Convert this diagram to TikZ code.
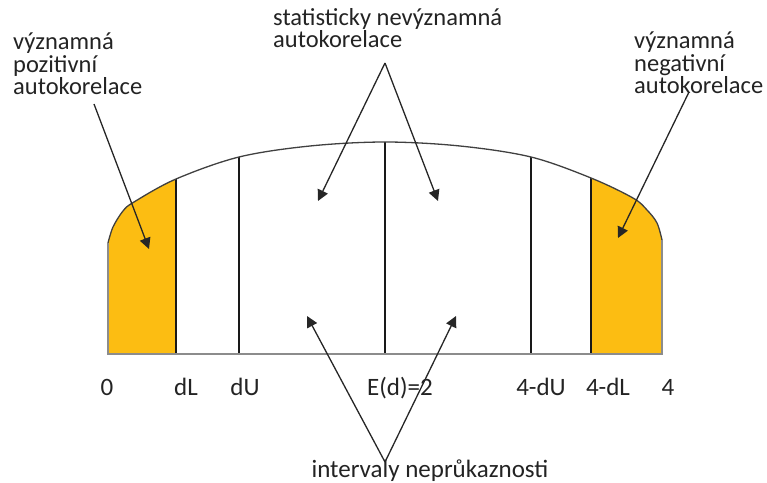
\documentclass[tikz,border=0pt]{standalone}
\usepackage{fontspec}
\setmainfont{Carlito}
\usetikzlibrary{arrows.meta}
\definecolor{fillor}{RGB}{252,189,18}
\definecolor{txt}{RGB}{35,35,35}
\begin{document}
\begin{tikzpicture}[x=1bp,y=-1bp,
  lbl/.style={font=\fontsize{24.5bp}{22.5bp}\selectfont, text=txt, inner sep=0pt, align=left},
  ax/.style={font=\fontsize{25bp}{25bp}\selectfont, text=txt, inner sep=0pt, anchor=base},
  arr/.style={-{Triangle[length=11bp,width=11bp]}, line width=1.3bp, draw=black!85},
  div/.style={line width=1.4bp, draw=black!90},
  rim/.style={line width=1.3bp, draw=black!75},
  edge/.style={line width=1.5bp, draw=black!45}]
\useasboundingbox (0,0) rectangle (767,483);
\begin{scope}
  \clip (108,354) -- plot[smooth,tension=0.55] coordinates {(108,243)(113,227)(123,211)(134,202)(176,179)(239,157)(310,146)(385,142)(460,146)(531,157)(591,178)(633,198)(647,210)(657,223)(662,240)} -- (662,354) -- cycle;
  \fill[fillor] (100,100) rectangle (176,360);
  \fill[fillor] (591,100) rectangle (670,360);
  \foreach \x in {176,239,385,531,591} \draw[div] (\x,354) -- (\x,100);
\end{scope}
\draw[rim] plot[smooth,tension=0.55] coordinates {(108,243)(113,227)(123,211)(134,202)(176,179)(239,157)(310,146)(385,142)(460,146)(531,157)(591,178)(633,198)(647,210)(657,223)(662,240)};
\draw[edge] (108,243) -- (108,354) -- (662,354) -- (662,240);

\node[lbl, anchor=base west] (lpos) at (13,95) {významná\\pozitivní\\autokorelace};
\node[lbl, anchor=base west] (stat) at (273,48) {statisticky nevýznamná\\autokorelace};
\node[lbl, anchor=base west] (rneg) at (634,94) {významná\\negativní\\autokorelace};

\node[ax] (t0) at (107,395) {0};
\node[ax] (tdl) at (186,395) {dL};
\node[ax] (tdu) at (245,395) {dU};
\node[ax] (ted) at (400,395) {E(d)=2};
\node[ax] (t4du) at (541,395) {4-dU};
\node[ax] (t4dl) at (608,395) {4-dL};
\node[ax] (t4) at (668,395) {4};
\node[ax] (intv) at (430,477) {intervaly neprůkaznosti};

\coordinate (ls) at (94,104); \coordinate (lt) at (149,249);
\coordinate (rs) at (689,92); \coordinate (rt) at (618,238);
\coordinate (ta) at (385,63); \coordinate (tl) at (318,201); \coordinate (tr) at (438,201);
\coordinate (ba) at (385,462); \coordinate (bl) at (307,316); \coordinate (br) at (456,316);

\draw[arr] (ls) -- (lt);
\draw[arr] (rs) -- (rt);
\draw[arr] (ta) -- (tl);
\draw[arr] (ta) -- (tr);
\draw[arr] (ba) -- (bl);
\draw[arr] (ba) -- (br);
\end{tikzpicture}
\end{document}
